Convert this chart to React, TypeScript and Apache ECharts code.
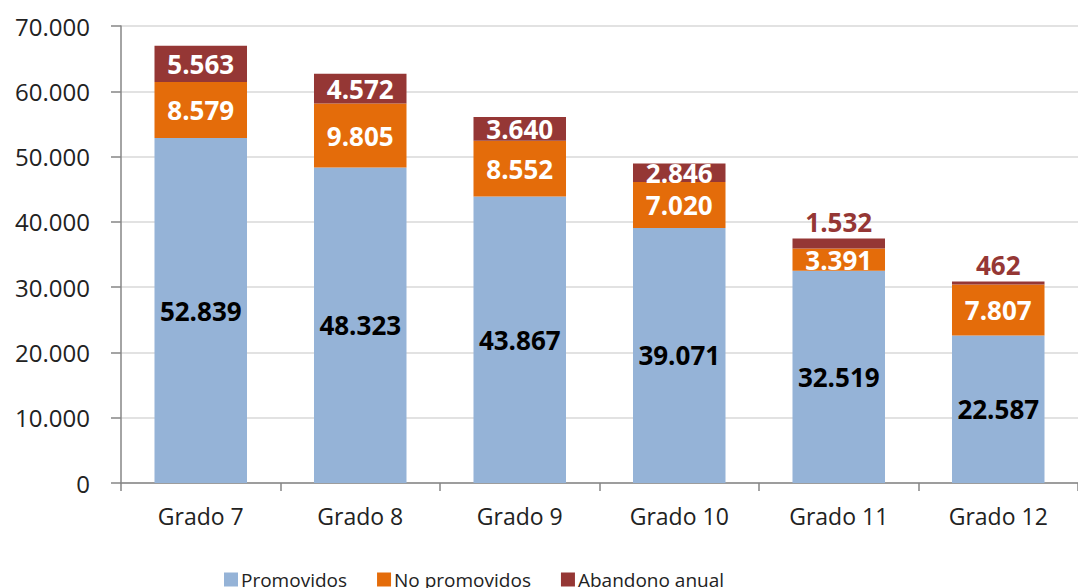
import React, { useEffect, useRef } from "react";
import * as echarts from "echarts";

const categories = ["Grado 7", "Grado 8", "Grado 9", "Grado 10", "Grado 11", "Grado 12"];
const promovidos = [52839, 48323, 43867, 39071, 32519, 22587];
const noPromovidos = [8579, 9805, 8552, 7020, 3391, 7807];
const abandono = [5563, 4572, 3640, 2846, 1532, 462];
const yTicks = [0, 10000, 20000, 30000, 40000, 50000, 60000, 70000];

const fmt = (v: number) => String(v).replace(/\B(?=(\d{3})+(?!\d))/g, ".");
const FONT = "Open Sans";

export default function App() {
  const ref = useRef<HTMLDivElement>(null);
  useEffect(() => {
    const chart = echarts.init(ref.current!, null, { renderer: "svg" });
    const labelBase = {
      show: true,
      fontFamily: FONT,
      fontWeight: "bold" as const,
      fontSize: 26,
      formatter: (p: any) => fmt(p.value),
    };
    chart.setOption({
      animation: false,
      backgroundColor: "#ffffff",
      grid: { left: 121, top: 26, bottom: 105, width: 967, containLabel: false },
      legend: {
        top: 565,
        left: 219,
        itemWidth: 14,
        itemHeight: 14,
        itemGap: 30,
        icon: "rect",
        textStyle: { fontFamily: FONT, fontSize: 19, color: "#222", padding: [0, 0, 0, -2] },
        data: ["Promovidos", "No promovidos", "Abandono anual"],
      },
      xAxis: {
        type: "category",
        data: categories,
        axisLine: { lineStyle: { color: "#868686", width: 1.5 } },
        axisTick: { show: true, length: 8, alignWithLabel: false, lineStyle: { color: "#868686", width: 1.5 } },
        axisLabel: { fontFamily: FONT, fontSize: 23, color: "#222", margin: 21 },
      },
      yAxis: {
        type: "value",
        min: 0,
        max: 70000,
        interval: 10000,
        axisLine: { show: true, lineStyle: { color: "#868686", width: 1.5 } },
        axisTick: { show: true, length: 10, lineStyle: { color: "#868686", width: 1.5 } },
        splitLine: { lineStyle: { color: "#d9d9d9", width: 1.5 } },
        axisLabel: {
          fontFamily: FONT,
          fontSize: 24,
          color: "#222",
          margin: 31,
          formatter: (v: number) => (yTicks.includes(v) ? fmt(v) : ""),
        },
      },
      series: [
        {
          name: "Promovidos",
          type: "bar",
          stack: "t",
          barWidth: "58%",
          data: promovidos,
          itemStyle: { color: "#95B3D7" },
          label: { ...labelBase, position: "inside", color: "#000" },
        },
        {
          name: "No promovidos",
          type: "bar",
          stack: "t",
          data: noPromovidos,
          itemStyle: { color: "#E46C0A" },
          label: { ...labelBase, position: "inside", color: "#fff" },
        },
        {
          name: "Abandono anual",
          type: "bar",
          stack: "t",
          itemStyle: { color: "#953735" },
          data: abandono.map((v, i) =>
            i >= 4
              ? { value: v, label: { position: "top", color: "#953735", distance: 4 } }
              : { value: v }
          ),
          label: { ...labelBase, position: "inside", color: "#fff" },
        },
      ],
    });
    return () => chart.dispose();
  }, []);
  return (
    <div
      ref={ref}
      style={{ position: "absolute", left: 0, top: 0, width: 1078, height: 588 }}
    />
  );
}
